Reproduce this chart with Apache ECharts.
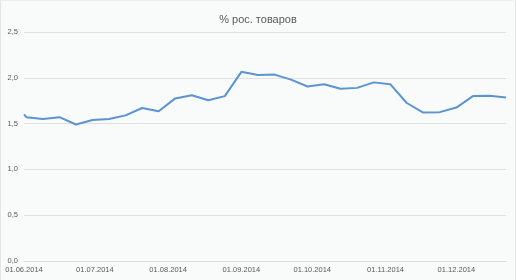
<!DOCTYPE html>
<html>
<head>
<meta charset="utf-8">
<script src="https://cdn.jsdelivr.net/npm/echarts@6/dist/echarts.min.js"></script>
<style>
html,body{margin:0;padding:0;background:#fff;}
#c{width:514px;height:279px;border:1px solid #e3e6e5;border-top:1px solid #eef0ef;background:#f8fbfa;}
</style>
</head>
<body>
<div id="c"></div>
<script>
var titleText = '% рос. товаров';
var dates = ['2014-06-01','2014-06-02','2014-06-09','2014-06-16','2014-06-23','2014-06-30','2014-07-07','2014-07-14','2014-07-21','2014-07-28','2014-08-04','2014-08-11','2014-08-18','2014-08-25','2014-09-01','2014-09-08','2014-09-15','2014-09-22','2014-09-29','2014-10-06','2014-10-13','2014-10-20','2014-10-27','2014-11-03','2014-11-10','2014-11-17','2014-11-24','2014-12-01','2014-12-08','2014-12-15','2014-12-22'];
var values = [1.60,1.57,1.55,1.57,1.49,1.54,1.55,1.59,1.67,1.635,1.775,1.81,1.755,1.80,2.065,2.03,2.035,1.98,1.905,1.93,1.88,1.89,1.95,1.93,1.725,1.62,1.625,1.675,1.80,1.805,1.785];
var xTickLabels = ['2014-06-01','2014-07-01','2014-08-01','2014-09-01','2014-10-01','2014-11-01','2014-12-01'];
var yMin = 0, yMax = 2.5, yStep = 0.5;

function toTs(s){var p=s.split('-');return new Date(+p[0],+p[1]-1,+p[2]).getTime();}
function pad(n){return (n<10?'0':'')+n;}
var chart = echarts.init(document.getElementById('c'));
var font = '"Liberation Sans", Arial, sans-serif';
chart.setOption({
  backgroundColor:'#f8fbfa',
  animation:false,
  title:{text:titleText,left:'center',top:8,textStyle:{fontFamily:font,fontSize:11,fontWeight:'normal',color:'#595959'}},
  grid:{left:23,right:9,top:31,bottom:19,containLabel:false},
  xAxis:{
    type:'value',
    min:toTs(dates[0]),
    max:toTs(dates[dates.length-1]),
    axisLine:{show:true,lineStyle:{color:'#d9d9d9',width:1}},
    axisTick:{show:false},
    splitLine:{show:false},
    axisLabel:{
      customValues:xTickLabels.map(toTs),
      formatter:function(v){var d=new Date(v);return pad(d.getDate())+'.'+pad(d.getMonth()+1)+'.'+d.getFullYear();},
      color:'#595959',fontFamily:font,fontSize:7.5,margin:5,hideOverlap:false
    }
  },
  yAxis:{
    type:'value',min:yMin,max:yMax,interval:yStep,
    axisLine:{show:false},axisTick:{show:false},
    splitLine:{lineStyle:{color:'#dfe2e1',width:1}},
    axisLabel:{formatter:function(v){return v.toFixed(1).replace('.',',');},color:'#595959',fontFamily:font,fontSize:7.5,margin:6}
  },
  series:[{
    type:'line',
    data:dates.map(function(d,i){return [toTs(d),values[i]];}),
    symbol:'none',
    lineStyle:{color:'#5b93d3',width:2},
    itemStyle:{color:'#5b93d3'}
  }]
});
</script>
</body>
</html>
